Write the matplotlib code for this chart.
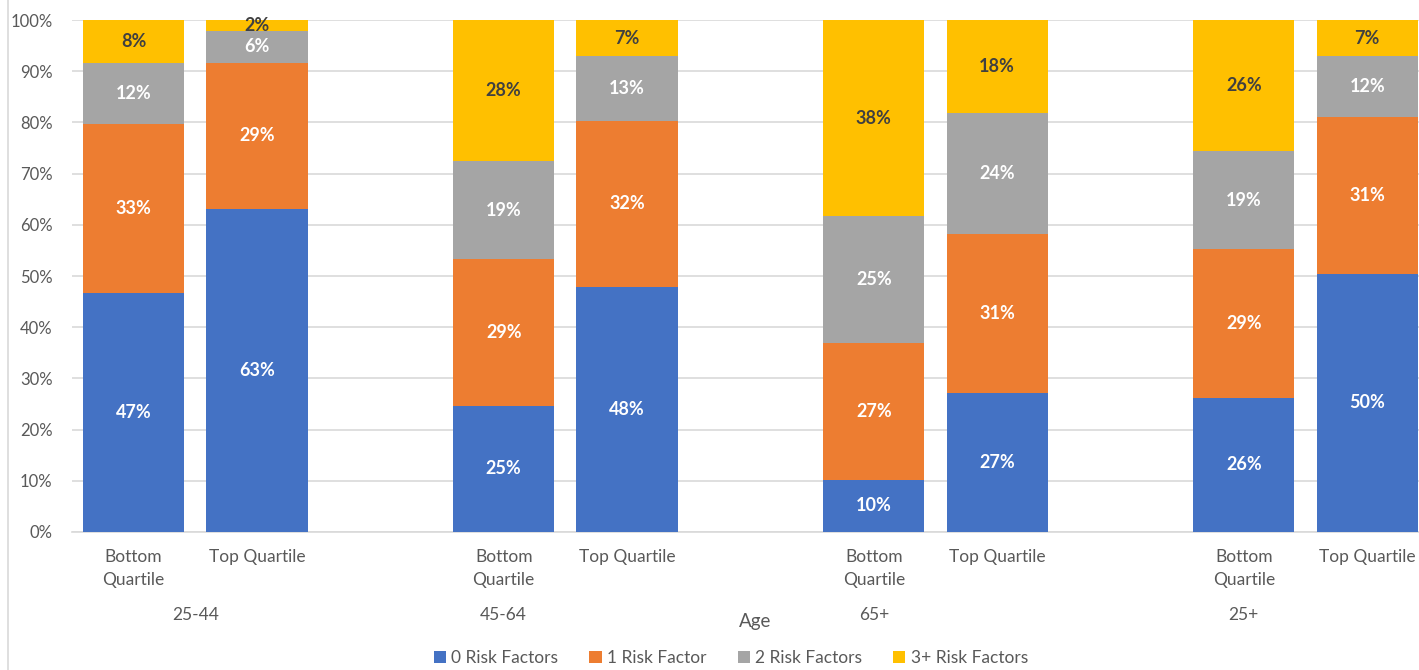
import matplotlib
matplotlib.use('Agg')
import matplotlib.pyplot as plt
from matplotlib.lines import Line2D
import numpy as np

plt.rcParams['font.family'] = ['Lato', 'DejaVu Sans']

# categories: blank slots belong to the next age group (Excel multi-level axis)
age_groups = ['25-44', '25-44', '45-64', '45-64', '45-64',
              '65+', '65+', '65+', '25+', '25+', '25+']
quartiles = ['Bottom\nQuartile', 'Top Quartile', '',
             'Bottom\nQuartile', 'Top Quartile', '',
             'Bottom\nQuartile', 'Top Quartile', '',
             'Bottom\nQuartile', 'Top Quartile']

series_names = ['0 Risk Factors', '1 Risk Factor', '2 Risk Factors', '3+ Risk Factors']
risk0 = [46.7, 63.1, np.nan, 24.7, 47.9, np.nan, 10.2, 27.1, np.nan, 26.2, 50.4]
risk1 = [33.0, 28.6, np.nan, 28.6, 32.4, np.nan, 26.7, 31.1, np.nan, 29.1, 30.7]
risk2 = [11.9, 6.1, np.nan, 19.1, 12.7, np.nan, 24.8, 23.6, np.nan, 19.1, 11.9]
risk3 = [8.4, 2.2, np.nan, 27.6, 7.0, np.nan, 38.3, 18.2, np.nan, 25.6, 7.0]

colors = ['#4472C4', '#ED7D31', '#A5A5A5', '#FFC000']
label_colors = ['white', 'white', 'white', '#404040']
tick_gray = '#595959'
grid_gray = '#D9D9D9'

fig = plt.figure(figsize=(14.19, 6.70), dpi=100)
ax = fig.add_axes([0.0507, 0.206, 0.9493, 0.764])

x = np.arange(len(quartiles))
bottom = np.zeros(len(x))
for vals, name, col, lc in zip([risk0, risk1, risk2, risk3], series_names,
                               colors, label_colors):
    v = np.array(vals, dtype=float)
    mask = ~np.isnan(v)
    ax.bar(x[mask], v[mask], width=0.82, bottom=bottom[mask], color=col,
           label=name, zorder=3)
    for xi, b, h in zip(x[mask], bottom[mask], v[mask]):
        ax.text(xi, b + h / 2, f'{h:.0f}%', ha='center', va='center',
                color=lc, fontsize=13, fontweight='bold', zorder=4)
    bottom[mask] += v[mask]

ax.set_xlim(-0.5, 10.42)
ax.set_ylim(0, 100)
ax.set_yticks(np.arange(0, 101, 10))
ax.set_yticklabels([f'{t}%' for t in range(0, 101, 10)])
ax.yaxis.grid(True, color=grid_gray, lw=1.2, zorder=0)
ax.tick_params(axis='y', length=0, pad=14, labelsize=12, labelcolor=tick_gray)
for s in ['top', 'right', 'left']:
    ax.spines[s].set_visible(False)
ax.spines['bottom'].set_color(grid_gray)
ax.spines['bottom'].set_linewidth(1.2)

ax.set_xticks(x)
ax.set_xticklabels(quartiles, fontsize=12.5, color=tick_gray, linespacing=1.55)
ax.tick_params(axis='x', length=0, pad=12)

# group labels under the quartile labels
trans = ax.get_xaxis_transform()
seen = []
for g in age_groups:
    if g not in seen:
        seen.append(g)
for g in seen:
    idx = [i for i, a in enumerate(age_groups) if a == g]
    ax.text(np.mean(idx), -0.163, g, transform=trans, ha='center', va='center',
            fontsize=12.5, color=tick_gray)

fig.text(0.532, 0.073, 'Age', ha='center', va='center', fontsize=13.5,
         color=tick_gray)

# chart border on the left
fig.add_artist(Line2D([0.0053, 0.0053], [0, 1], color=grid_gray, lw=1.2))

handles, labels = ax.get_legend_handles_labels()
leg = fig.legend(handles, labels, loc='center', bbox_to_anchor=(0.515, 0.018),
                 ncol=4, frameon=False, fontsize=12.5, handlelength=0.7,
                 handleheight=0.7, handletextpad=0.3, columnspacing=1.8)
for t in leg.get_texts():
    t.set_color(tick_gray)

fig.savefig('out.png', dpi=100)
